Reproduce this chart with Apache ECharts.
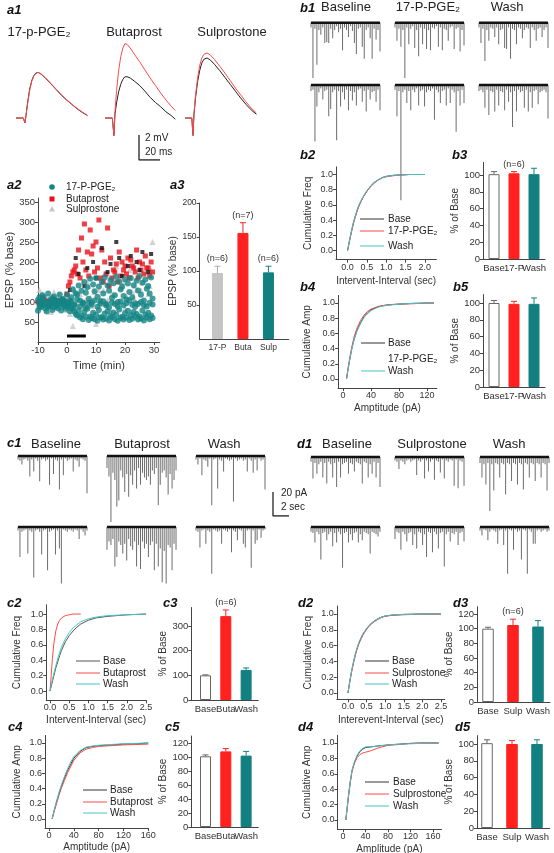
<!DOCTYPE html>
<html><head><meta charset="utf-8">
<script src="https://cdn.jsdelivr.net/npm/echarts@6/dist/echarts.min.js"></script>
<style>html,body{margin:0;padding:0;background:#fff}#c{width:554px;height:853px}</style>
</head><body><div id="c"></div>
<script>
// ---------------- DATA ----------------
// a1 EPSP traces (ms, mV)
const a1T17 = [0,7,8.5,9.5,11,13,15,17,19,21,24,28,33,38,43,48,53,58,63,68];
const a1Ctl17 = [0,0,-0.4,0.2,1.2,2.3,3.0,3.4,3.6,3.65,3.5,3.2,2.75,2.3,1.85,1.45,1.1,0.75,0.45,0.2];
const a1Drug17 = [0,0,-0.4,0.2,1.1,2.2,2.95,3.35,3.58,3.65,3.52,3.22,2.78,2.33,1.88,1.48,1.12,0.78,0.48,0.22];
const a1TBut = [0,7,8.5,9.5,11,13,15,17,19,21,24,28,33,38,43,48,53,58,63,67];
const a1CtlBut = [0,0,-1.4,0.3,1.2,2.1,2.7,3.1,3.3,3.3,3.2,2.95,2.6,2.15,1.65,1.25,0.9,0.5,0.2,-0.1];
const a1DrugBut = [0,0,-1.4,0.5,2.2,3.8,4.9,5.6,5.95,5.9,5.6,5.1,4.5,3.85,3.2,2.6,2.0,1.45,0.95,0.6];
const a1TSul = [0,6.5,7.6,8.5,10,12,14,16,18,21,24,28,33,38,43,48,53,58,63,68];
const a1CtlSul = [0,0,-1.4,0.2,1.6,2.9,3.8,4.4,4.7,4.8,4.65,4.3,3.8,3.25,2.7,2.15,1.6,1.1,0.65,0.3];
const a1DrugSul = [0,0,-1.4,0.3,1.8,3.2,4.2,4.8,5.1,5.2,5.05,4.7,4.15,3.6,3.0,2.4,1.85,1.3,0.8,0.4];

// a2 time course (min, % base)
const a2TimeA = [-10,-9,-8,-7,-6,-5,-4,-3,-2,-1,0,1,2,3,4,5,6,7,8,9,10,11,12,13,14,15,16,17,18,19,20,21,22,23,24,25,26,27,28,29];
const a2TimeB = [-9.5,-8.5,-7.5,-6.5,-5.5,-4.5,-3.5,-2.5,-1.5,-0.5,0.5,1.5,2.5,3.5,4.5,5.5,6.5,7.5,8.5,9.5,10.5,11.5,12.5,13.5,14.5,15.5,16.5,17.5,18.5,19.5,20.5,21.5,22.5,23.5,24.5,25.5,26.5,27.5,28.5,29.5];
const tealA = [105,92,112,98,90,110,96,104,93,101,118,104,132,122,141,128,150,137,158,144,160,139,150,162,141,155,147,163,151,139,157,146,160,142,153,165,148,156,140,161];
const tealB = [88,102,84,97,107,86,94,101,97,83,97,112,92,118,104,96,123,108,99,127,113,102,121,95,128,110,117,100,131,115,106,125,112,97,129,118,104,133,121,109];
const tealC = [78,87,92,76,90,80,94,84,79,91,88,77,84,70,79,66,75,83,64,73,68,80,62,71,77,65,74,69,81,63,72,78,67,75,70,64,79,68,73,66];
const tealD = [112,117,96,121,103,114,99,119,107,101,93,84,76,66,61,57,63,55,60,57,53,61,56,59,54,62,57,53,60,56,61,55,58,63,56,59,54,61,57,60];
const tealE = [96,106,99,87,97,105,89,99,107,93,90,101,94,106,89,99,86,97,93,104,88,96,102,91,87,99,95,89,101,92,97,104,93,88,95,100,92,89,98,94];
const redA = [100,95,105,98,102,96,104,100,97,103,120,150,175,190,230,260,295,225,280,240,250,305,230,200,285,210,180,195,225,200,190,210,205,185,230,200,195,215,185,200];
const redB = [98,104,96,102,100,106,94,100,103,98,140,165,180,170,160,200,180,165,220,175,185,160,150,170,140,160,175,150,165,180,170,160,190,175,160,180,170,185,165,175];
const grayA = [130,120,95,110,75,125,105,115,90,120,110,100,130,95,120,150,105,140,90,125,160,110,130,100,145,120,170,95,135,150,115,180,125,140,165,130,150,175,140,250];
const grayB = [85,100,115,80,105,95,110,120,100,90,80,70,40,90,120,100,85,150,110,60,45,130,95,170,105,80,120,190,100,140,85,160,75,110,130,60,150,95,120,180];
const blackA = [null,null,null,null,null,null,null,null,null,null,null,130,null,210,170,null,140,185,null,200,160,null,235,null,175,195,null,250,210,165,null,190,215,null,200,180,225,null,175,220];
const a2Drug = [0, 6.5];
const a2DrugLevel = 15;

// a3 summary
const a3Cats = ['17-P','Buta','Sulp'];
const a3Vals = [97,156,98];
const a3Errs = [10,15,9];
const a3N = ['(n=6)','(n=7)','(n=6)'];

// mEPSC trace event amplitudes (pA) per time slot
const b1BaseR1 = [4,46,5,35,6,10,4,17,16,17,5,13,6,3,8,5,23,4,6,12,3,7,17,26,5,4,20,30,6,4,13,30,5,14,6,24];
const b1BaseR2 = [5,4,47,18,6,3,12,5,4,26,20,6,4,46,5,18,6,12,4,21,5,13,6,17,4,3,14,5,22,4,12,6,5,14,4,21];
const b1DrugR1 = [4,15,5,20,6,46,4,18,5,3,21,6,28,4,18,5,22,6,23,4,5,3,20,4,23,5,6,15,4,3,22,5,4,24,6,19];
const b1DrugR2 = [4,26,5,96,6,4,15,5,21,4,6,3,17,5,4,18,6,4,5,3,29,4,6,15,5,4,17,3,15,4,6,39,5,17,4,15];
const b1WashR1 = [4,17,5,32,6,15,4,5,12,4,18,6,5,21,22,4,30,5,6,18,4,5,13,6,4,5,21,4,6,15,5,4,12,6,4,21];
const b1WashR2 = [5,4,6,19,4,25,5,6,22,4,17,5,6,21,4,14,6,35,5,22,4,6,5,19,4,22,6,19,5,4,16,6,5,4,6,28];
const c1BaseR1 = [3,4,7,3,2,4,17,3,13,2,4,21,3,2,4,3,24,2,15,3,4,28,3,16,2,4,3,2,13,3,4,9,2,3,4,31];
const c1BaseR2 = [3,25,4,3,2,22,3,4,42,3,2,4,23,3,2,36,4,3,2,23,3,18,47,2,3,4,2,3,4,2,3,10,2,4,7,3];
const c1DrugR1 = [10,17,55,14,20,42,37,12,18,30,15,34,16,24,12,27,10,24,14,18,20,17,24,12,15,10,41,24,14,12,18,32,15,27,20,12];
const c1DrugR2 = [19,12,15,10,33,25,12,15,22,14,28,10,16,19,12,33,15,35,12,18,14,25,15,12,36,14,33,18,46,20,47,15,17,36,14,19];
const c1WashR1 = [3,7,2,16,3,4,9,2,41,3,2,27,3,4,13,2,3,4,3,38,2,4,3,2,4,3,13,2,4,14,3,12,2,4,3,28];
const c1WashR2 = [3,4,17,3,2,14,3,4,39,2,3,4,3,14,2,3,4,2,21,3,4,11,2,3,14,17,3,2,34,3,14,11,2,9,3,2];
const d1BaseR1 = [4,18,5,14,6,4,17,5,22,4,6,17,5,25,4,17,6,5,4,14,5,6,12,4,5,6,22,4,5,17,6,14,4,17,5,25];
const d1BaseR2 = [4,5,13,4,6,27,5,4,11,6,4,16,5,13,4,6,34,5,4,13,6,11,5,4,13,6,11,4,5,6,22,4,5,6,8,4];
const d1DrugR1 = [3,4,10,3,4,6,3,2,4,3,2,15,3,4,2,18,3,12,4,2,19,3,4,13,2,18,3,4,2,3,24,2,26,3,4,24];
const d1DrugR2 = [10,4,5,19,4,6,12,5,4,15,6,18,4,5,15,6,25,4,5,21,4,6,18,5,4,33,6,4,12,5,6,4,15,5,4,12];
const d1WashR1 = [5,17,6,23,5,45,6,28,5,6,17,5,6,31,5,6,20,5,6,23,5,6,27,5,6,17,5,6,20,5,6,17,5,6,28,5];
const d1WashR2 = [3,7,2,3,11,4,2,3,4,14,3,2,15,3,39,2,3,19,2,4,3,27,2,3,39,2,4,14,14,3,2,4,3,2,4,3];

// cumulative distributions
const b2X = [0,0.05,0.1,0.15,0.2,0.25,0.3,0.4,0.5,0.6,0.7,0.8,0.9,1.0,1.2,1.4,1.6,1.8,2.0];
const b2Base = [0,0.13,0.25,0.36,0.45,0.53,0.6,0.7,0.78,0.85,0.9,0.93,0.96,0.975,0.99,0.995,1,1,1];
const b2Drug = [0,0.12,0.24,0.35,0.44,0.52,0.59,0.7,0.78,0.84,0.89,0.93,0.955,0.97,0.985,0.995,1,1,1];
const b2Wash = [0,0.14,0.26,0.37,0.46,0.54,0.61,0.71,0.79,0.85,0.9,0.935,0.96,0.975,0.99,0.995,1,1,1];
const b4X = [5,7,10,13,16,20,25,30,35,40,50,60,70,80,100,120,130];
const b4Base = [0,0.12,0.28,0.42,0.53,0.64,0.74,0.82,0.87,0.91,0.95,0.97,0.98,0.985,0.995,1,1];
const b4Drug = [0,0.13,0.3,0.44,0.56,0.67,0.77,0.84,0.89,0.92,0.955,0.97,0.98,0.985,0.99,1,1];
const b4Wash = [0,0.11,0.27,0.41,0.52,0.63,0.73,0.81,0.86,0.9,0.945,0.965,0.975,0.985,0.995,1,1];
const c2X = [0,0.05,0.1,0.15,0.2,0.25,0.3,0.4,0.5,0.6,0.7,0.8,1.0,1.2,1.5,2.0,2.5];
const c2Base = [0,0.1,0.2,0.3,0.38,0.46,0.53,0.64,0.72,0.78,0.83,0.87,0.92,0.95,0.97,0.99,1.0];
const c2Wash = [0,0.12,0.23,0.33,0.42,0.5,0.57,0.68,0.76,0.82,0.86,0.9,0.94,0.96,0.98,0.99,1.0];
const c2DrugX = [0,0.03,0.06,0.1,0.15,0.2,0.25,0.3,0.4,0.5,0.6,0.8];
const c2Drug = [0,0.2,0.42,0.62,0.78,0.87,0.92,0.95,0.98,0.99,1.0,1.0];
const c4X = [5,8,12,16,20,25,30,35,40,50,60,70,80,100,120,140,160];
const c4Base = [0,0.1,0.22,0.33,0.43,0.54,0.64,0.72,0.8,0.89,0.94,0.955,0.965,0.975,0.985,0.99,1.0];
const c4Drug = [0,0.09,0.2,0.31,0.41,0.51,0.61,0.69,0.77,0.87,0.92,0.94,0.955,0.965,0.975,0.98,0.985];
const c4Wash = [0,0.11,0.23,0.35,0.45,0.56,0.66,0.75,0.82,0.9,0.945,0.96,0.97,0.98,0.99,0.995,1.0];
const d2X = [0,0.05,0.1,0.15,0.2,0.25,0.3,0.4,0.5,0.6,0.7,0.8,0.9,1.0,1.2,1.5,2.0,2.5];
const d2Base = [0,0.15,0.28,0.39,0.49,0.57,0.64,0.74,0.81,0.87,0.91,0.94,0.96,0.975,0.985,0.995,1,1];
const d2Drug = [0,0.14,0.27,0.38,0.48,0.56,0.63,0.73,0.81,0.86,0.9,0.93,0.955,0.97,0.985,0.99,1,1];
const d2Wash = [0,0.15,0.29,0.4,0.5,0.58,0.65,0.75,0.82,0.87,0.91,0.94,0.96,0.975,0.99,0.995,1,1];
const d4X = [5,8,10,13,16,20,25,30,35,40,50,60,80,100,120,140,170];
const d4Base = [0,0.2,0.33,0.5,0.64,0.74,0.83,0.89,0.92,0.94,0.95,0.96,0.975,0.985,0.995,1,1];
const d4Drug = [0,0.19,0.32,0.49,0.63,0.73,0.81,0.85,0.87,0.88,0.9,0.93,0.97,0.98,0.995,1,1];
const d4Wash = [0,0.21,0.34,0.51,0.65,0.75,0.84,0.9,0.93,0.95,0.95,0.96,0.975,0.985,0.99,0.995,1];

// bar summaries (% of base)
const b3Cats = ['Base','17-P','Wash']; const b3Vals = [101,102,101]; const b3Errs = [3,2,7];
const b5Vals = [100,99,99]; const b5Errs = [3,3,7];
const c3Cats = ['Base','Buta','Wash']; const c3Vals = [100,340,122]; const c3Errs = [2,25,8];
const c5Vals = [101,108,102]; const c5Errs = [2,4,6];
const d3Cats = ['Base','Sulp','Wash']; const d3Vals = [100,105,103]; const d3Errs = [2,8,8];
const d5Vals = [101,100,100]; const d5Errs = [4,4,5];

// ---------------- BUILD ----------------
const FF = '"Liberation Sans", Arial, sans-serif';
const RED = '#ff2020', LRED = '#ff4a4a', TEAL = '#128080', CYAN = '#44c4c4', BASEC = '#333';
const grids = [], xAxes = [], yAxes = [], series = [], graphic = [];
function addGrid(b, xa, ya) {
  const i = grids.length;
  grids.push(Object.assign({show:false, containLabel:false, outerBoundsMode:'none'}, b));
  xAxes.push(Object.assign({gridIndex:i}, xa));
  yAxes.push(Object.assign({gridIndex:i}, ya));
  return i;
}
function hid(min, max) { return {type:'value', min, max, show:false}; }
function visAxis(min, max, ticks, fmt, extra, fs) {
  return Object.assign({type:'value', min, max, nameLocation:'middle',
    axisLine:{show:true, onZero:false, lineStyle:{color:'#444', width:1}},
    axisTick:{show:true, customValues:ticks, length:3, lineStyle:{color:'#444'}},
    axisLabel:{show:true, customValues:ticks, formatter:fmt, fontSize:fs||9, color:'#333', fontFamily:FF, margin:3},
    splitLine:{show:false},
    nameTextStyle:{fontSize:10, color:'#333', fontFamily:FF}}, extra || {});
}
function txt(x, y, s, size, opt) {
  graphic.push(Object.assign({type:'text', x, y, z:100, silent:true, style:{text:s, font:(opt&&opt.font)||(size+'px '+FF), fill:(opt&&opt.fill)||'#222',
    textAlign:(opt&&opt.align)||'left', textVerticalAlign:'middle'}}));
}
function hline(x1, x2, y, col) {
  graphic.push({type:'line', z:100, silent:true, shape:{x1, y1:y, x2, y2:y}, style:{stroke:col, lineWidth:1}});
}
function label(x, y, s) { txt(x, y, s, 13, {font:'italic bold 13px ' + FF, fill:'#111'}); }
function pairs(xs, ys) { const out = []; xs.forEach((x, i) => { if (ys[i] !== null) out.push([x, ys[i]]); }); return out; }

// a1 traces
const A1PX = 12.5, A1MS = 1.05;
function a1Trace(left, t, ctl, drug) {
  const gi = addGrid({left, top:118 - 6.5*A1PX, width:70*A1MS, height:8.5*A1PX}, hid(0,70), hid(-2,6.5));
  series.push({type:'line', xAxisIndex:gi, yAxisIndex:gi, data:pairs(t, ctl), symbol:'none', lineStyle:{color:'#222', width:1}, silent:true});
  series.push({type:'line', xAxisIndex:gi, yAxisIndex:gi, data:pairs(t, drug), symbol:'none', lineStyle:{color:LRED, width:1}, silent:true});
}
a1Trace(16, a1T17, a1Ctl17, a1Drug17);
a1Trace(105, a1TBut, a1CtlBut, a1DrugBut);
a1Trace(185, a1TSul, a1CtlSul, a1DrugSul);
const sbA = addGrid({left:139, top:135, width:20*A1MS, height:2*A1PX}, hid(0,20), hid(0,2));
series.push({type:'line', xAxisIndex:sbA, yAxisIndex:sbA, data:[[0,2],[0,0],[20,0]], symbol:'none', lineStyle:{color:'#222', width:1.3}, silent:true});
txt(145, 138, '2 mV', 10); txt(145, 152, '20 ms', 10);
label(7, 10, 'a1');
txt(39, 32, '17-p-PGE₂', 13, {align:'center'});
txt(134, 32, 'Butaprost', 13, {align:'center'});
txt(232, 32, 'Sulprostone', 13, {align:'center'});

// a2 scatter
const a2 = addGrid({left:38, top:198, width:42*2.9, height:144},
  visAxis(-10, 32, [-10,0,10,20,30], v => String(v), {name:'Time (min)', nameGap:18, nameTextStyle:{fontSize:11,color:'#333',fontFamily:FF}}, 9.5),
  visAxis(0, 360, [50,100,150,200,250,300,350], v => String(v), {name:'EPSP (% base)', nameGap:20, nameTextStyle:{fontSize:11,color:'#333',fontFamily:FF}}, 9.5));
function sc(xs, ys, sym, size, col) {
  series.push({type:'scatter', xAxisIndex:a2, yAxisIndex:a2, data:pairs(xs, ys), symbol:sym, symbolSize:size, itemStyle:{color:col}, silent:true});
}
sc(a2TimeB, grayA, 'triangle', 6, '#c6c6c6');
sc(a2TimeA, grayB, 'triangle', 6, '#c6c6c6');
sc(a2TimeA, redA, 'rect', 5, '#e8101a');
sc(a2TimeB, redB, 'rect', 5, '#e8101a');
sc(a2TimeA, blackA, 'rect', 4, '#111');
sc(a2TimeA, tealA, 'circle', 6, '#148585');
sc(a2TimeB, tealB, 'circle', 6, '#148585');
sc(a2TimeA, tealC, 'circle', 6, '#148585');
sc(a2TimeB, tealD, 'circle', 6, '#148585');
sc(a2TimeB, tealE, 'circle', 6, '#148585');
series.push({type:'line', xAxisIndex:a2, yAxisIndex:a2, data:a2Drug.map(x => [x, a2DrugLevel]), symbol:'none', lineStyle:{color:'#000', width:3}, silent:true});
label(7, 185, 'a2');
graphic.push({type:'circle', z:100, shape:{cx:52, cy:187, r:2.8}, style:{fill:'#148585'}});
graphic.push({type:'rect', z:100, shape:{x:49.5, y:196.5, width:5, height:5}, style:{fill:'#e8101a'}});
graphic.push({type:'polygon', z:100, shape:{points:[[52,206],[55,211.5],[49,211.5]]}, style:{fill:'#c6c6c6'}});
txt(66, 187, '17-P-PGE₂', 10); txt(66, 199, 'Butaprost', 10); txt(66, 209, 'Sulprostone', 10);

// bar helper (category names are drawn under each bar by the custom series)
function addBars(b, xr, yr, yt, cats, vals, errs, cols, ecols, nlab, yname, ygap, bw, fs) {
  const f = fs || 9.5;
  const gi = addGrid(b,
    visAxis(xr[0], xr[1], [1,2,3], v => '', {axisTick:{show:false}, axisLabel:{show:false}}, f),
    visAxis(yr[0], yr[1], yt, v => String(v), {name:yname, nameGap:ygap}, f));
  series.push({type:'bar', xAxisIndex:gi, yAxisIndex:gi, barWidth:bw, silent:true,
    data: vals.map((v, i) => ({value:[i+1, v], itemStyle:{color:cols[i], borderColor:cols[i]==='#ffffff' ? '#666' : cols[i], borderWidth:1}}))});
  series.push({type:'custom', xAxisIndex:gi, yAxisIndex:gi, silent:true, z:3, clip:false,
    data: vals.map((v, i) => [i+1, v, errs[i]]),
    renderItem: (params, api) => {
      const i = params.dataIndex, x = api.value(0), v = api.value(1), e = api.value(2);
      const p0 = api.coord([x, v]), p1 = api.coord([x, v + e]), pb = api.coord([x, yr[0]]);
      const ch = [
        {type:'line', shape:{x1:p0[0], y1:p0[1], x2:p1[0], y2:p1[1]}, style:{stroke:ecols[i], lineWidth:1}},
        {type:'line', shape:{x1:p1[0]-3, y1:p1[1], x2:p1[0]+3, y2:p1[1]}, style:{stroke:ecols[i], lineWidth:1}},
        {type:'text', x:pb[0], y:pb[1]+4, style:{text:cats[i], fill:'#333', font:f + 'px ' + FF, textAlign:'center', textVerticalAlign:'top', align:'center', verticalAlign:'top'}}];
      if (nlab && nlab[i]) ch.push({type:'text', x:p1[0], y:p1[1]-3, style:{text:nlab[i], fill:'#333', font:'9px ' + FF, textAlign:'center', textVerticalAlign:'bottom', align:'center', verticalAlign:'bottom'}});
      return {type:'group', children:ch};
    }});
  return gi;
}
addBars({left:199.6, top:203, width:3.5*25.5, height:136}, [0.3,3.8], [0,200], [50,100,150,200], a3Cats, a3Vals, a3Errs,
  ['#c4c4c4', RED, TEAL], ['#aaa', RED, TEAL], a3N, 'EPSP (% base)', 16, 11, 8.5);
label(170, 185, 'a3');

// trace helper
const TR = 1.2;
const slots = b1BaseR1.map((_, i) => i);
function addTrace(left, base, amps) {
  const gi = addGrid({left, top:base - 4*TR, width:71, height:104*TR},
    {type:'category', data:slots, show:false, boundaryGap:true}, {type:'value', min:-100, max:4, show:false});
  series.push({type:'bar', xAxisIndex:gi, yAxisIndex:gi, data:amps.map(a => -a), barWidth:1, itemStyle:{color:'#6c6c6c'}, silent:true, clip:false});
  series.push({type:'line', xAxisIndex:gi, yAxisIndex:gi, data:amps.map(() => 0), symbol:'none', lineStyle:{color:'#111', width:2.6}, silent:true});
}
addTrace(310, 22.7, b1BaseR1); addTrace(394, 22.7, b1DrugR1); addTrace(478, 22.7, b1WashR1);
addTrace(310, 85, b1BaseR2); addTrace(394, 85, b1DrugR2); addTrace(478, 85, b1WashR2);
label(300, 8, 'b1');
txt(346, 7, 'Baseline', 13, {align:'center'}); txt(428, 7, '17-P-PGE₂', 13, {align:'center'}); txt(507, 7, 'Wash', 13, {align:'center'});
addTrace(17, 456, c1BaseR1); addTrace(106, 456, c1DrugR1); addTrace(195, 456, c1WashR1);
addTrace(17, 527, c1BaseR2); addTrace(106, 527, c1DrugR2); addTrace(195, 527, c1WashR2);
label(7, 443, 'c1');
txt(56, 444, 'Baseline', 13, {align:'center'}); txt(142, 444, 'Butaprost', 13, {align:'center'}); txt(224, 444, 'Wash', 13, {align:'center'});
addTrace(310, 457, d1BaseR1); addTrace(394, 457, d1DrugR1); addTrace(479, 457, d1WashR1);
addTrace(310, 527, d1BaseR2); addTrace(394, 527, d1DrugR2); addTrace(479, 527, d1WashR2);
label(297, 444, 'd1');
txt(347, 444, 'Baseline', 13, {align:'center'}); txt(432, 444, 'Sulprostone', 13, {align:'center'}); txt(509, 444, 'Wash', 13, {align:'center'});
const sbC = addGrid({left:273, top:492, width:16, height:24}, hid(0,2), hid(0,20));
series.push({type:'line', xAxisIndex:sbC, yAxisIndex:sbC, data:[[0,20],[0,0],[2,0]], symbol:'none', lineStyle:{color:'#222', width:1.3}, silent:true});
txt(281, 493, '20 pA', 10); txt(281, 507, '2 sec', 10);

// cumulative helper
function addCdf(b, xr, xt, xname, xgap, yr, yname, ygap, lines) {
  const gi = addGrid(b,
    visAxis(xr[0], xr[1], xt, v => (xt[1] < 1 ? v.toFixed(1) : String(v)), {name:xname, nameGap:xgap}),
    visAxis(yr[0], yr[1], [0,0.2,0.4,0.6,0.8,1.0], v => v.toFixed(1), {name:yname, nameGap:ygap}));
  lines.forEach(l => series.push({type:'line', xAxisIndex:gi, yAxisIndex:gi, data:pairs(l[0], l[1]), symbol:'none', lineStyle:{color:l[2], width:1}, silent:true}));
}
function legend3(x1, x2, tx, ys, names, cols) {
  names.forEach((n, i) => { if (cols[i]) hline(x1, x2, ys[i], cols[i]); txt(tx, ys[i], n, 10); });
}
addCdf({left:336, top:166.9, width:2.6*38.6, height:1.22*76}, [-0.3,2.3], [0,0.5,1,1.5,2], 'Intervent-Interval (sec)', 17,
  [-0.12,1.1], 'Cumulative Freq', 23, [[b2X,b2Base,BASEC],[b2X,b2Drug,LRED],[b2X,b2Wash,CYAN]]);
legend3(360, 384, 388, [219,231,246], ['Base','17-P-PGE₂','Wash'], [BASEC, LRED, CYAN]);
label(300, 155, 'b2');
addBars({left:483, top:162.4, width:62, height:96.6}, [0.45,3.55], [0,115], [0,20,40,60,80,100], b3Cats, b3Vals, b3Errs,
  ['#ffffff', RED, TEAL], ['#666', RED, TEAL], [null,'(n=6)',null], '% of Base', 21, 11);
label(452, 155, 'b3');
addCdf({left:338.1, top:295.4, width:141*0.7, height:1.22*76}, [-7,134], [0,40,80,120], 'Amptitude (pA)', 15,
  [-0.12,1.1], 'Cumulative Amp', 26, [[b4X,b4Base,BASEC],[b4X,b4Drug,LRED],[b4X,b4Wash,CYAN]]);
legend3(361, 385, 388, [343,359,371], ['Base','17-P-PGE₂','Wash'], [BASEC, null, CYAN]);
label(300, 287, 'b4');
addBars({left:483, top:294.6, width:62, height:92.4}, [0.45,3.55], [0,110], [0,20,40,60,80,100], b3Cats, b5Vals, b5Errs,
  ['#ffffff', RED, TEAL], ['#666', RED, TEAL], null, '% of Base', 23, 11);
label(453, 287, 'b5');
addCdf({left:46.2, top:604.8, width:2.6*38.4, height:1.24*77}, [-0.1,2.5], [0,0.5,1,1.5,2,2.5], 'Intervent-Interval (sec)', 15,
  [-0.12,1.12], 'Cumulative Freq', 24, [[c2DrugX,c2Drug,LRED],[c2X,c2Base,'#555'],[c2X,c2Wash,CYAN]]);
legend3(76, 100, 103, [661,673,684], ['Base','Butaprost','Wash'], ['#555', LRED, CYAN]);
label(7, 603, 'c2');
addBars({left:191.3, top:607.5, width:3.3*20.3, height:92.5}, [0.3,3.6], [0,375], [0,100,200,300], c3Cats, c3Vals, c3Errs,
  ['#ffffff', RED, TEAL], ['#666', RED, TEAL], [null,'(n=6)',null], '% of Base', 14, 11);
label(163, 603, 'c3');
addCdf({left:45, top:735.4, width:166.5*0.62, height:1.22*76}, [-6.5,160], [0,40,80,120,160], 'Amptitude (pA)', 14,
  [-0.12,1.1], 'Cumulative Amp', 23, [[c4X,c4Base,BASEC],[c4X,c4Drug,LRED],[c4X,c4Wash,CYAN]]);
legend3(83, 107, 110, [790,802,813], ['Base','Butaprost','Wash'], [BASEC, LRED, CYAN]);
label(8, 727, 'c4');
addBars({left:191.3, top:736, width:3.3*20.3, height:91}, [0.3,3.6], [0,130], [0,20,40,60,80,100,120], c3Cats, c5Vals, c5Errs,
  ['#ffffff', RED, TEAL], ['#666', RED, TEAL], null, '% of Base', 13, 11);
label(165, 727, 'c5');
addCdf({left:336.8, top:606.1, width:2.9*37.2, height:1.18*79}, [-0.3,2.6], [0,0.5,1,1.5,2,2.5], 'Interevent-Interval (sec)', 16,
  [-0.08,1.1], 'Cumulative Freq', 24, [[d2X,d2Base,BASEC],[d2X,d2Drug,LRED],[d2X,d2Wash,CYAN]]);
legend3(365, 389, 392, [661,673,684], ['Base','Sulprostone','Wash'], [BASEC, LRED, CYAN]);
label(298, 603, 'd2');
addBars({left:477, top:606.7, width:2.92*25, height:95.3}, [0.56,3.48], [0,130], [0,20,40,60,80,100,120], d3Cats, d3Vals, d3Errs,
  ['#ffffff', RED, TEAL], ['#666', RED, TEAL], [null,'(n=6)',null], '% of Base', 17, 11.5);
label(453, 603, 'd3');
addCdf({left:337.4, top:735.3, width:185*0.5625, height:1.22*77}, [-10,175], [0,40,80,120,160], 'Amplitude (pA)', 15,
  [-0.12,1.1], 'Cumulative Amp', 25, [[d4X,d4Base,BASEC],[d4X,d4Drug,LRED],[d4X,d4Wash,CYAN]]);
legend3(365, 389, 393, [782,794,806], ['Base','Sulprostone','Wash'], [BASEC, LRED, CYAN]);
label(298, 727, 'd4');
addBars({left:477, top:735.6, width:2.9*25, height:92.4}, [0.6,3.5], [0,110], [0,20,40,60,80,100], d3Cats, d5Vals, d5Errs,
  ['#ffffff', RED, TEAL], ['#666', RED, TEAL], null, '% of Base', 17, 11.5);
label(455, 727, 'd5');

const chart = echarts.init(document.getElementById('c'), null, {renderer:'canvas'});
chart.setOption({animation:false, backgroundColor:'#fff', textStyle:{fontFamily:FF},
  grid:grids, xAxis:xAxes, yAxis:yAxes, series, graphic});
</script></body></html>
